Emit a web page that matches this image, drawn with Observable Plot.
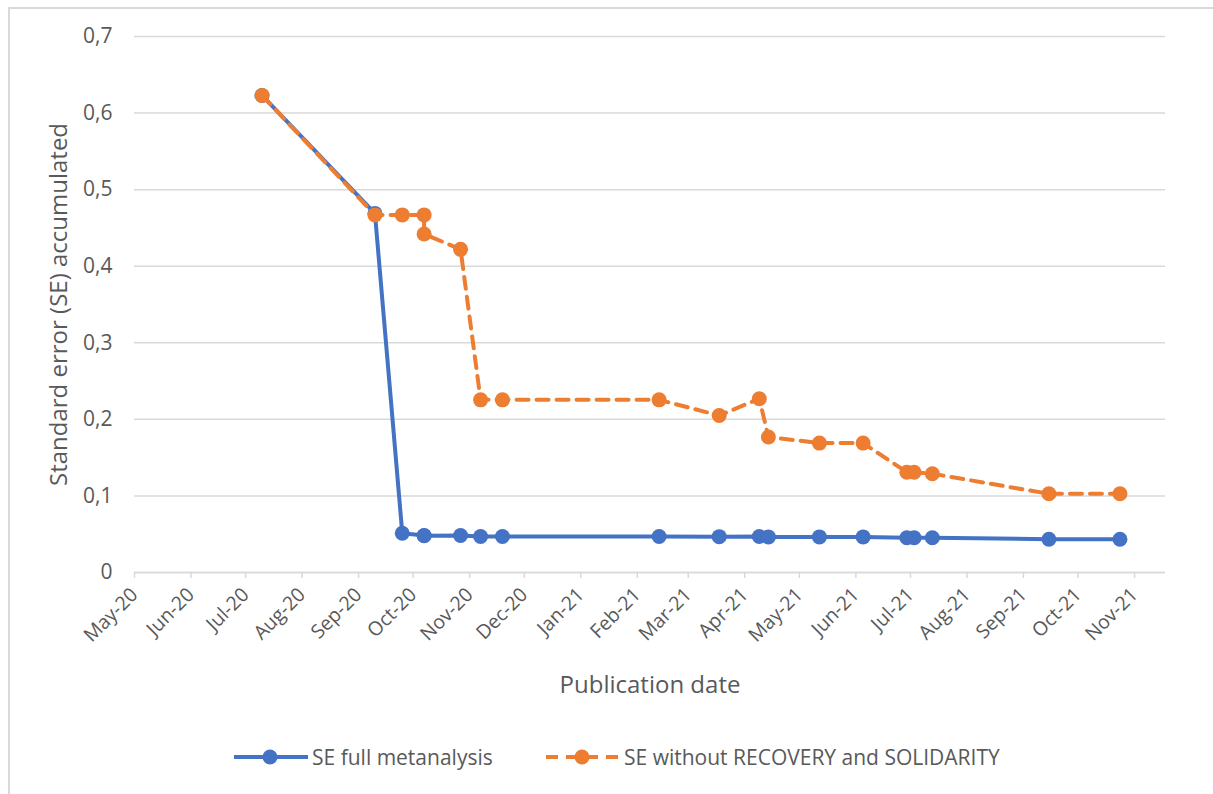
<!DOCTYPE html>
<html>
<head>
<meta charset="utf-8">
<script src="https://cdn.jsdelivr.net/npm/d3@7"></script>
<script src="https://cdn.jsdelivr.net/npm/@observablehq/plot@0.6"></script>
<style>
  html, body { margin: 0; padding: 0; background: #fff; }
  body { width: 1213px; height: 794px; position: relative; overflow: hidden; font-family: "Open Sans", Lato, sans-serif; }
  #frame { position: absolute; left: 8px; top: 7px; width: 1220px; height: 800px; border: 2px solid #D9D9D9; box-sizing: border-box; }
  #chart { position: absolute; left: 0; top: 0; }
  #legend { position: absolute; left: 0; top: 743px; width: 1213px; height: 28px; font-size: 21px; color: #595959; }
  .item { position: absolute; top: 0; display: flex; align-items: center; height: 28px; white-space: nowrap; }
  .item svg { margin-right: 3px; }
</style>
</head>
<body>
<div id="frame"></div>
<div id="chart"></div>
<div id="legend"></div>
<script>
// ---- data ----
const dates = [
  "2020-07-10", "2020-09-10", "2020-09-25", "2020-10-07", "2020-10-07", "2020-10-27",
  "2020-11-07", "2020-11-19", "2021-02-13", "2021-03-18", "2021-04-09", "2021-04-14",
  "2021-05-12", "2021-06-05", "2021-06-29", "2021-07-03", "2021-07-13", "2021-09-15",
  "2021-10-24"
];
const seFull = [
  0.623, 0.469, 0.0513, 0.0483, 0.0480, 0.0483,
  0.0470, 0.0470, 0.0470, 0.0468, 0.0470, 0.0465,
  0.0465, 0.0465, 0.0453, 0.0453, 0.0453, 0.0435,
  0.0435
];
const seWithout = [
  0.623, 0.467, 0.467, 0.467, 0.442, 0.422,
  0.2255, 0.2255, 0.2255, 0.205, 0.227, 0.177,
  0.169, 0.169, 0.131, 0.131, 0.129, 0.1028,
  0.1028
];
const seriesNames = ["SE full metanalysis", "SE without RECOVERY and SOLIDARITY"];
const yTicks = [0, 0.1, 0.2, 0.3, 0.4, 0.5, 0.6, 0.7];
const xLabel = "Publication date";
const yLabel = "Standard error (SE) accumulated";

const blue = "#4472C4", orange = "#ED7D31", textGray = "#595959", gridGray = "#D9D9D9";

const rows = dates.map((d, i) => ({date: new Date(d), full: seFull[i], without: seWithout[i]}));
const fmtY = d => d === 0 ? "0" : d3.format(".1f")(d).replace(".", ",");
const fmtX = d3.utcFormat("%b-%y");

const chart = Plot.plot({
  width: 1213,
  height: 712,
  marginLeft: 134,
  marginRight: 48,
  marginTop: 36,
  marginBottom: 140,
  style: {fontFamily: "'Open Sans', Lato, sans-serif", fontSize: "19px", color: textGray, background: "transparent"},
  x: {type: "utc", domain: [new Date("2020-05-01"), new Date("2021-11-18")]},
  y: {domain: [0, 0.7]},
  marks: [
    Plot.gridY(yTicks, {stroke: gridGray, strokeOpacity: 1, strokeWidth: 1.5}),
    Plot.ruleY([0], {stroke: gridGray, strokeWidth: 1.5}),
    Plot.axisY(yTicks, {tickSize: 0, tickPadding: 22, tickFormat: fmtY, label: null, fill: textGray, fontSize: 21}),
    Plot.axisX({ticks: d3.utcMonth.every(1), tickFormat: fmtX, tickRotate: -45, tickSize: 6, tickPadding: 13,
      stroke: gridGray, strokeWidth: 1.5, strokeOpacity: 1, label: null, fill: textGray, fontSize: 19.5}),
    Plot.text([xLabel], {frameAnchor: "bottom", dy: 120, fill: textGray, fontSize: 24}),
    Plot.text([yLabel], {frameAnchor: "left", textAnchor: "middle", dx: -75, rotate: -90, fill: textGray, fontSize: 24}),
    Plot.line(rows, {x: "date", y: "full", stroke: blue, strokeWidth: 4, strokeLinejoin: "round"}),
    Plot.dot(rows, {x: "date", y: "full", r: 7.5, fill: blue, stroke: null}),
    Plot.line(rows, {x: "date", y: "without", stroke: orange, strokeWidth: 4, strokeDasharray: "12,8", strokeLinejoin: "round"}),
    Plot.dot(rows, {x: "date", y: "without", r: 7.5, fill: orange, stroke: null})
  ]
});
document.getElementById("chart").appendChild(chart);

// ---- legend ----
const legend = document.getElementById("legend");
const swatches = [
  {name: seriesNames[0], color: blue, dash: null, left: 233},
  {name: seriesNames[1], color: orange, dash: "12,8", left: 545}
];
for (const s of swatches) {
  const item = document.createElement("div");
  item.className = "item";
  item.style.left = s.left + "px";
  item.innerHTML = `<svg width="76" height="20"><line x1="1" x2="75" y1="10" y2="10" stroke="${s.color}" stroke-width="4"${s.dash ? ` stroke-dasharray="${s.dash}"` : ""}/><circle cx="37" cy="10" r="7.5" fill="${s.color}"/></svg><span>${s.name}</span>`;
  legend.appendChild(item);
}
</script>
</body>
</html>
